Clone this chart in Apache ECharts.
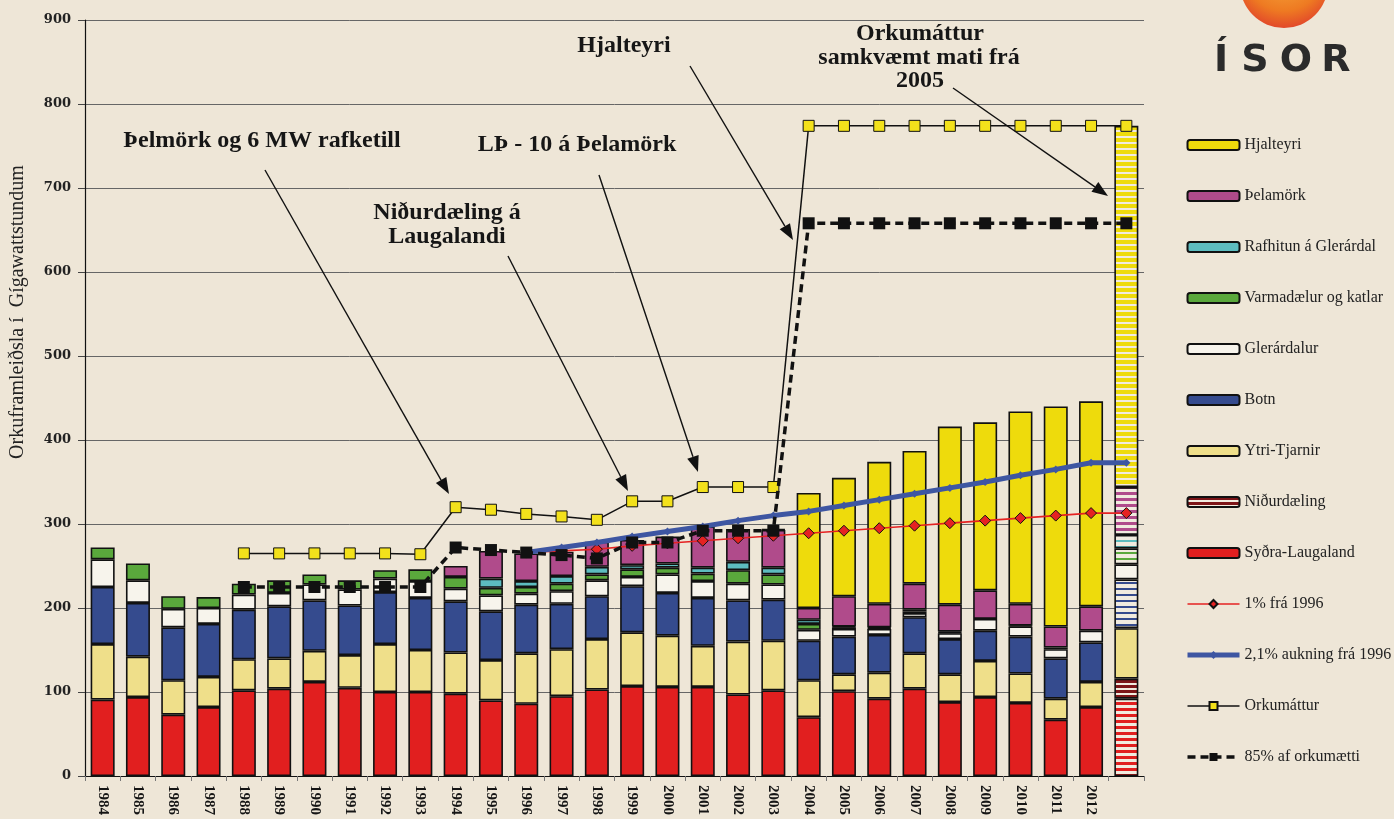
<!DOCTYPE html>
<html>
<head>
<meta charset="utf-8">
<script src="https://cdn.jsdelivr.net/npm/echarts@6/dist/echarts.min.js"></script>
<style>
html,body{margin:0;padding:0;background:#eee6d7;}
#c{width:1394px;height:819px;}
</style>
</head>
<body>
<div id="c"></div>
<script>
// ---- data ----
const categories = ['1984','1985','1986','1987','1988','1989','1990','1991','1992','1993','1994','1995','1996','1997','1998','1999','2000','2001','2002','2003','2004','2005','2006','2007','2008','2009','2010','2011','2012',''];
const sydraLaugaland = [91,94,73,82,102,104,112,105,100,100,98,90,86,95,103,107,106,106,97,102,70,101,92,104,88,94,87,67,82,92];
const nidurdaeling   = [0,0,0,0,0,0,0,0,0,0,0,0,0,0,0,0,0,0,0,0,0,0,0,0,0,0,0,0,0,24];
const ytriTjarnir    = [66,48,41,36,37,36,37,39,57,50,49,48,60,56,60,64,61,49,63,59,44,20,31,42,33,43,35,25,30,60];
const botn           = [68,64,63,63,59,62,60,59,62,62,61,58,58,54,51,55,51,57,49,49,47,45,45,43,42,36,44,48,47,58];
const glerardalur    = [33,27,22,19,18,16,19,19,16,20,15,19,13,15,19,11,22,20,20,18,13,9,7,5,7,14,12,11,14,18];
const varmadaelur    = [14,20,15,13,13,15,12,11,10,14,14,9,8,9,7,9,8,9,16,12,7,2,1,2,1,0,1,2,0,19];
const rafhitun       = [0,0,0,0,0,0,0,0,0,0,0,11,7,9,9,5,5,7,10,8,5,1,1,2,1,0,0,0,0,16];
const thelamork      = [0,0,0,0,0,0,0,0,0,0,13,33,33,29,30,30,32,49,39,45,14,36,28,31,32,34,26,25,29,57];
const hjalteyri      = [0,0,0,0,0,0,0,0,0,0,0,0,0,0,0,0,0,0,0,1,137,141,169,158,212,200,229,262,244,430];
const pct1           = [null,null,null,null,null,null,null,null,null,null,null,null,266,268,270,274,277,280,283,286,289,292,295,298,301,304,307,310,313,313];
const pct21          = [null,null,null,null,null,null,null,null,null,null,null,null,266,272,278,285,291,297,304,310,315,322,329,336,343,350,358,365,373,373];
const orkumattur     = [null,null,null,null,265,265,265,265,265,264,320,317,312,309,305,327,327,344,344,344,774,774,774,774,774,774,774,774,774,774];
const orku85         = [null,null,null,null,225,225,225,225,225,225,272,269,266,263,259,278,278,292,292,292,658,658,658,658,658,658,658,658,658,658];
const yTicks = [0,100,200,300,400,500,600,700,800,900];

// ---- helpers ----
const LIGHT = '#f1ebdf';
function stripe(color, on, off) {
  const c = document.createElement('canvas');
  c.width = 8; c.height = on + off;
  const g = c.getContext('2d');
  g.fillStyle = LIGHT; g.fillRect(0, 0, 8, on + off);
  g.fillStyle = color; g.fillRect(0, 0, 8, on);
  return { image: c, repeat: 'repeat' };
}

const barDefs = [
  { name: 'Syðra-Laugaland', data: sydraLaugaland, color: '#e11f1f', pat: ['#e11f1f', 3, 3] },
  { name: 'Niðurdæling', data: nidurdaeling, color: null, pat: ['#7d1518', 3, 2] },
  { name: 'Ytri-Tjarnir', data: ytriTjarnir, color: '#efdf8a', pat: null },
  { name: 'Botn', data: botn, color: '#354b8e', pat: ['#354b8e', 2, 4] },
  { name: 'Glerárdalur', data: glerardalur, color: '#f7f4ec', pat: null },
  { name: 'Varmadælur og katlar', data: varmadaelur, color: '#5aa83c', pat: ['#5aa83c', 2, 4] },
  { name: 'Rafhitun á Glerárdal', data: rafhitun, color: '#5dbcbf', pat: ['#5dbcbf', 2, 4] },
  { name: 'Þelamörk', data: thelamork, color: '#b04b8b', pat: ['#b04b8b', 3, 3] },
  { name: 'Hjalteyri', data: hjalteyri, color: '#eedb0c', pat: ['#eedb0c', 4, 2] }
];

const barSeries = barDefs.map(d => {
  const patColor = d.pat ? stripe(d.pat[0], d.pat[1], d.pat[2]) : null;
  const last = d.data.length - 1;
  return {
    name: d.name,
    type: 'bar',
    stack: 'total',
    barWidth: '68%',
    itemStyle: { color: d.color || patColor, borderColor: '#111', borderWidth: 1.6 },
    emphasis: { disabled: true },
    data: d.data.map((v, i) => {
      if (!v) return null;
      if (i === last && patColor) return { value: v, itemStyle: { color: patColor } };
      return v;
    })
  };
});

const lineSeries = [
  { name: '1% frá 1996', type: 'line', data: pct1, symbol: 'diamond', symbolSize: 11,
    lineStyle: { color: '#e52222', width: 1.6 },
    itemStyle: { color: '#e52222', borderColor: '#111', borderWidth: 1 }, z: 3 },
  { name: '2,1% aukning frá 1996', type: 'line', data: pct21, symbol: 'diamond', symbolSize: 8,
    lineStyle: { color: '#3e56a2', width: 5 },
    itemStyle: { color: '#3e56a2' }, z: 4 },
  { name: 'Orkumáttur', type: 'line', data: orkumattur, symbol: 'rect', symbolSize: 11,
    lineStyle: { color: '#111', width: 1.5 },
    itemStyle: { color: '#f3e11b', borderColor: '#111', borderWidth: 1 }, z: 5 },
  { name: '85% af orkumætti', type: 'line', data: orku85, symbol: 'rect', symbolSize: 12,
    lineStyle: { color: '#111', width: 3.5, type: [8, 5] },
    itemStyle: { color: '#111' }, z: 6 }
];
lineSeries.forEach(s => { s.emphasis = { disabled: true }; s.connectNulls = false; });

// ---- annotations (layout) ----
const annFont = 'bold 24px "Liberation Serif"';
function txt(s, x, y, font) {
  return { type: 'text', x: x, y: y, z: 50,
    style: { text: s, font: font || annFont, fill: '#161616', align: 'center', verticalAlign: 'middle' } };
}
function arrow(x1, y1, x2, y2) {
  const a = Math.atan2(y2 - y1, x2 - x1), L = 16, W = 6;
  const bx = x2 - L * Math.cos(a), by = y2 - L * Math.sin(a);
  const px = -Math.sin(a) * W, py = Math.cos(a) * W;
  return [
    { type: 'line', z: 50, shape: { x1: x1, y1: y1, x2: bx, y2: by }, style: { stroke: '#111', lineWidth: 1.4 } },
    { type: 'polygon', z: 50, shape: { points: [[x2, y2], [bx + px, by + py], [bx - px, by - py]] }, style: { fill: '#111' } }
  ];
}
const logoFont = 'bold 38px "DejaVu Sans"';
function logoTxt(s, x) {
  return { type: 'text', x: x, y: 61, z: 50,
    style: { text: s, font: logoFont, fill: '#2b2b2b', align: 'center', verticalAlign: 'middle' } };
}

const graphics = [
  txt('Þelmörk og 6 MW rafketill', 262, 141),
  txt('Niðurdæling á', 447, 213),
  txt('Laugalandi', 447, 237),
  txt('LÞ - 10 á Þelamörk', 577, 145),
  txt('Hjalteyri', 624, 46),
  txt('Orkumáttur', 920, 34),
  txt('samkvæmt mati frá', 919, 58),
  txt('2005', 920, 81),
  ...arrow(265, 170, 449, 494),
  ...arrow(508, 256, 628, 491),
  ...arrow(599, 175, 698, 472),
  ...arrow(690, 66, 793, 240),
  ...arrow(953, 88, 1108, 196),
  { type: 'text', x: 18, y: 312, rotation: Math.PI / 2, z: 50,
    style: { text: 'Orkuframleiðsla í  Gígawattstundum', font: '20px "Liberation Serif"', fill: '#222', align: 'center', verticalAlign: 'middle' } },
  // logo
  { type: 'circle', z: 40, shape: { cx: 1284, cy: -16, r: 44 },
    style: { fill: { type: 'radial', x: 0.5, y: 0.35, r: 0.65,
      colorStops: [{ offset: 0, color: '#f7b240' }, { offset: 0.7, color: '#ee7a22' }, { offset: 1, color: '#e2492a' }] } } },
  logoTxt('Í', 1221), logoTxt('S', 1255), logoTxt('O', 1296), logoTxt('R', 1336)
];

const chart = echarts.init(document.getElementById('c'), null, { renderer: 'canvas' });
chart.setOption({
  backgroundColor: '#eee6d7',
  animation: false,
  grid: { left: 85, right: 250, top: 20, bottom: 43, containLabel: false },
  legend: {
    orient: 'vertical', left: 1180, top: 132,
    itemWidth: 52, itemHeight: 10, itemGap: 35,
    textStyle: { fontFamily: 'Liberation Serif', fontSize: 16, color: '#222', lineHeight: 16 },
    data: ['Hjalteyri', 'Þelamörk', 'Rafhitun á Glerárdal', 'Varmadælur og katlar', 'Glerárdalur', 'Botn', 'Ytri-Tjarnir', 'Niðurdæling', 'Syðra-Laugaland',
      { name: '1% frá 1996', lineStyle: { width: 1.6, color: '#e52222' } },
      { name: '2,1% aukning frá 1996', lineStyle: { width: 5, color: '#3e56a2' } },
      { name: 'Orkumáttur', lineStyle: { width: 1.5, color: '#111' } },
      { name: '85% af orkumætti', lineStyle: { width: 3.5, color: '#111', type: [8, 5] } }],
    selectedMode: false
  },
  xAxis: {
    type: 'category', data: categories,
    axisLine: { lineStyle: { color: '#111', width: 1.2 } },
    axisTick: { show: true, length: 5, lineStyle: { color: '#777' } },
    axisLabel: { rotate: -90, margin: 9, fontFamily: 'Liberation Serif', fontWeight: 'bold', fontSize: 15, color: '#151515', interval: 0 }
  },
  yAxis: {
    type: 'value', min: yTicks[0], max: yTicks[yTicks.length - 1], interval: 100,
    axisLine: { show: true, lineStyle: { color: '#111', width: 1.2 } },
    axisTick: { show: true, length: 7, lineStyle: { color: '#444' } },
    axisLabel: { margin: 14, fontFamily: 'DejaVu Serif', fontWeight: 'bold', fontSize: 13, color: '#222' },
    splitLine: { lineStyle: { color: '#666', width: 1 } }
  },
  series: barSeries.concat(lineSeries),
  graphic: graphics
});
</script>
</body>
</html>
